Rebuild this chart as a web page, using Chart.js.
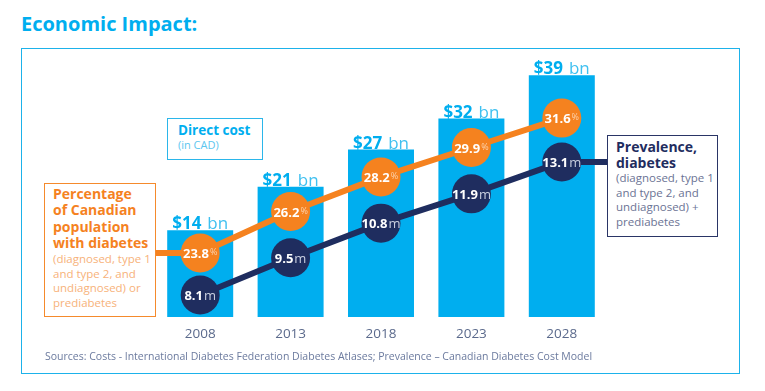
<!DOCTYPE html>
<html>
<head>
<meta charset="utf-8">
<script src="https://cdn.jsdelivr.net/npm/chart.js@4.4.1/dist/chart.umd.min.js"></script>
<style>
body { margin: 0; background: #fff; font-family: "Open Sans", sans-serif; }
#wrap { position: relative; width: 765px; height: 391px; overflow: hidden; }
#chartBox { position: absolute; left: 0; top: 0; width: 765px; height: 391px; }
.title { position: absolute; left: 21px; top: 14px; font-size: 20px; line-height: 20px; font-weight: 700; color: #00aeef; }
.frame { position: absolute; left: 21px; top: 48px; width: 717px; height: 324px; border: 1.5px solid #1db2ea; }
.note { position: absolute; box-sizing: border-box; background: #fff; z-index: 2; }
.note .b { font-weight: 700; }
#costNote { left: 167px; top: 118px; width: 96px; height: 42px; border: 1.5px solid #2bb6ea; padding: 3px 0 0 10px; }
#costNote .b { font-size: 13.5px; line-height: 16px; color: #00aeef; }
#costNote .r { font-size: 11px; line-height: 14px; color: #5cc6ef; }
#pctNote { left: 44px; top: 183px; width: 112px; height: 134px; border: 1.5px solid #f58a2c; padding: 2px 0 0 8px; }
#pctNote .b { font-size: 14px; line-height: 16.3px; color: #f5821f; }
#pctNote .r { font-size: 11.5px; line-height: 14.6px; color: #f7b27a; margin-top: 1px; }
#prevNote { left: 607px; top: 135px; width: 111px; height: 102px; border: 1.5px solid #2a3566; padding: 3px 0 0 8px; }
#prevNote .b { font-size: 14px; line-height: 16px; color: #1f2d5f; }
#prevNote .r { font-size: 11.5px; line-height: 14.5px; color: #6b7394; }
.sources { position: absolute; left: 45px; top: 350px; font-size: 10.5px; line-height: 12px; color: #6b7a9e; white-space: nowrap; }
</style>
</head>
<body>
<div id="wrap">
  <div class="title">Economic Impact:</div>
  <div class="frame"></div>
  <div id="chartBox"><canvas id="chart"></canvas></div>
  <div class="note" id="costNote">
    <div class="b">Direct cost</div>
    <div class="r">(in CAD)</div>
  </div>
  <div class="note" id="pctNote">
    <div class="b">Percentage<br>of Canadian<br>population<br>with diabetes</div>
    <div class="r">(diagnosed, type 1<br>and type 2, and<br>undiagnosed) or<br>prediabetes</div>
  </div>
  <div class="note" id="prevNote">
    <div class="b">Prevalence,<br>diabetes</div>
    <div class="r">(diagnosed, type 1<br>and type 2, and<br>undiagnosed) +<br>prediabetes</div>
  </div>
  <div class="sources">Sources: Costs - International Diabetes Federation Diabetes Atlases; Prevalence – Canadian Diabetes Cost Model</div>
</div>
<script>
const years = ['2008', '2013', '2018', '2023', '2028']
const costs = [14, 21, 27, 32, 39]            // direct cost, $ bn
const pctDiabetes = [23.8, 26.2, 28.2, 29.9, 31.6]   // % of population
const prevalence = [8.1, 9.5, 10.8, 11.9, 13.1]      // millions

const cyan = '#00aeef'
const orange = '#f5821f'
const navy = '#1f2d5f'

// connector stubs that run from the end points into the side boxes
const connectors = {
  id: 'connectors',
  beforeDatasetDraw(chart, args) {
    const ctx = chart.ctx
    const area = chart.chartArea
    const pts = args.meta.data
    if (args.index === 1) {
      ctx.save()
      ctx.strokeStyle = orange
      ctx.lineWidth = 6
      ctx.beginPath()
      ctx.moveTo(area.left, pts[0].y)
      ctx.lineTo(pts[0].x, pts[0].y)
      ctx.stroke()
      ctx.restore()
    }
    if (args.index === 2) {
      const last = pts[pts.length - 1]
      ctx.save()
      ctx.strokeStyle = navy
      ctx.lineWidth = 6
      ctx.beginPath()
      ctx.moveTo(last.x, last.y)
      ctx.lineTo(area.right, last.y)
      ctx.stroke()
      ctx.restore()
    }
  }
}

function drawPair(ctx, a, b, x, y, fontA, fontB, colA, colB, gap, liftB) {
  ctx.font = fontA
  const wa = ctx.measureText(a).width
  ctx.font = fontB
  const wb = ctx.measureText(b).width
  const start = x - (wa + gap + wb) / 2
  ctx.textAlign = 'left'
  ctx.textBaseline = 'alphabetic'
  ctx.font = fontA
  ctx.fillStyle = colA
  ctx.fillText(a, start, y)
  ctx.font = fontB
  ctx.fillStyle = colB
  ctx.fillText(b, start + wa + gap, y - liftB)
}

const valueLabels = {
  id: 'valueLabels',
  afterDatasetsDraw(chart) {
    const ctx = chart.ctx
    ctx.save()
    chart.getDatasetMeta(0).data.forEach((bar, i) => {
      drawPair(ctx, '$' + costs[i], 'bn', bar.x, bar.y - 1,
        '700 17px "Open Sans"', '400 17px "Open Sans"', cyan, '#3fc0f0', 6, 0)
    })
    chart.getDatasetMeta(1).data.forEach((pt, i) => {
      drawPair(ctx, pctDiabetes[i].toFixed(1), '%', pt.x, pt.y + 5,
        '700 13px "Open Sans"', '400 9px "Open Sans"', '#fff', '#fcd3ad', 1, 3)
    })
    chart.getDatasetMeta(2).data.forEach((pt, i) => {
      drawPair(ctx, prevalence[i].toFixed(1), 'm', pt.x, pt.y + 5,
        '700 13px "Open Sans"', '400 13px "Open Sans"', '#fff', '#c9cfe0', 1, 0)
    })
    ctx.restore()
  }
}

new Chart(document.getElementById('chart'), {
  data: {
    labels: years,
    datasets: [
      {
        type: 'bar',
        data: costs,
        yAxisID: 'y',
        backgroundColor: cyan,
        borderWidth: 0,
        barPercentage: 0.73,
        categoryPercentage: 1,
        order: 3
      },
      {
        type: 'line',
        data: pctDiabetes,
        yAxisID: 'y1',
        borderColor: orange,
        borderWidth: 6,
        pointRadius: 19.5,
        pointHoverRadius: 19.5,
        pointBackgroundColor: orange,
        pointBorderWidth: 0,
        tension: 0,
        order: 2
      },
      {
        type: 'line',
        data: prevalence,
        yAxisID: 'y2',
        borderColor: navy,
        borderWidth: 6,
        pointRadius: 19.5,
        pointHoverRadius: 19.5,
        pointBackgroundColor: navy,
        pointBorderWidth: 0,
        tension: 0,
        order: 1
      }
    ]
  },
  options: {
    responsive: true,
    maintainAspectRatio: false,
    animation: false,
    layout: { padding: { left: 155, right: 158, top: 60, bottom: 44 } },
    plugins: { legend: { display: false }, tooltip: { enabled: false } },
    scales: {
      x: {
        grid: { display: false, drawTicks: false },
        border: { display: false },
        ticks: { color: '#5b6a8c', font: { family: 'Open Sans', size: 13.5 }, padding: 9 },
        afterFit(scale) { scale.height = 30 }
      },
      y: { display: false, min: 0, max: 41.45 },
      y1: { display: false, min: 20.1, max: 34.96 },
      y2: { display: false, min: 7.273, max: 16.93 }
    }
  },
  plugins: [connectors, valueLabels]
})
</script>
</body>
</html>
